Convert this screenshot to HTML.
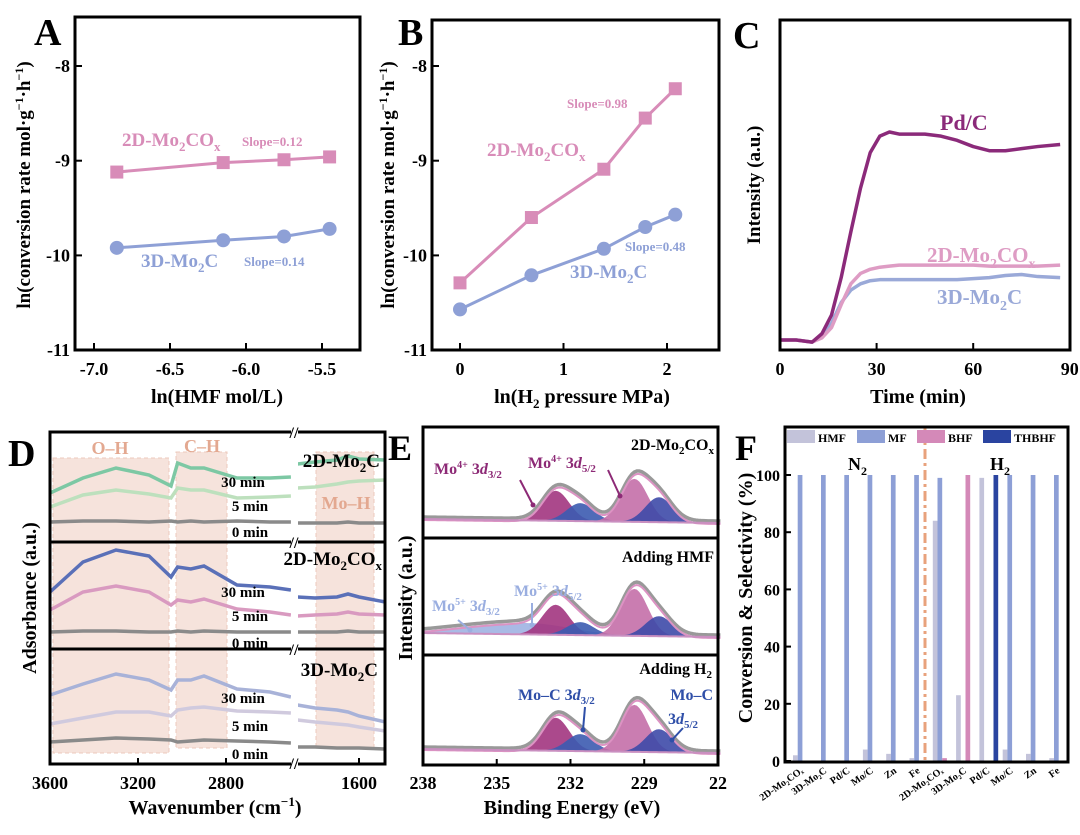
<!DOCTYPE html>
<html><head><meta charset="utf-8"><style>
html,body{margin:0;padding:0;background:#fff;}
svg{display:block;font-family:"Liberation Serif",serif;font-weight:bold;}
</style></head><body>
<svg id="fig" width="1080" height="835" viewBox="0 0 1080 835" xmlns="http://www.w3.org/2000/svg">
<text x="34" y="45" font-size="38">A</text>
<text x="398" y="45" font-size="38">B</text>
<text x="733" y="48" font-size="38">C</text>
<text x="8" y="466" font-size="38">D</text>
<text x="388" y="460" font-size="36">E</text>
<text x="735" y="460" font-size="36">F</text>

<g id="pA"></g>
<g id="pB"></g>
<g id="pC"></g>
<g id="pD"></g>
<g id="pE"></g>
<g id="pF"></g>

<text transform="translate(30,185) rotate(-90)" font-size="19" text-anchor="middle">ln(conversion rate mol·g<tspan dy="-7" font-size="12">−1</tspan><tspan dy="7">·h</tspan><tspan dy="-7" font-size="12">−1</tspan><tspan dy="7">)</tspan></text>
<text x="217" y="403" font-size="20" text-anchor="middle">ln(HMF mol/L)</text>
<text x="122" y="146" font-size="19" fill="#d88cb8">2D-Mo<tspan dy="5" font-size="13">2</tspan><tspan dy="-5">CO</tspan><tspan dy="5" font-size="13">x</tspan></text>
<text x="242" y="146" font-size="13" fill="#d88cb8">Slope=0.12</text>
<text x="141" y="267" font-size="19" fill="#8ea0d6">3D-Mo<tspan dy="5" font-size="13">2</tspan><tspan dy="-5">C</tspan></text>
<text x="244" y="266" font-size="13" fill="#8ea0d6">Slope=0.14</text>

<text transform="translate(394,185) rotate(-90)" font-size="19" text-anchor="middle">ln(conversion rate mol·g<tspan dy="-7" font-size="12">−1</tspan><tspan dy="7">·h</tspan><tspan dy="-7" font-size="12">−1</tspan><tspan dy="7">)</tspan></text>
<text x="582" y="403" font-size="20" text-anchor="middle">ln(H<tspan dy="5" font-size="13">2</tspan><tspan dy="-5"> pressure MPa)</tspan></text>
<text x="567" y="108" font-size="13" fill="#d88cb8">Slope=0.98</text>
<text x="487" y="156" font-size="19" fill="#d88cb8">2D-Mo<tspan dy="5" font-size="13">2</tspan><tspan dy="-5">CO</tspan><tspan dy="5" font-size="13">x</tspan></text>
<text x="625" y="251" font-size="13" fill="#8ea0d6">Slope=0.48</text>
<text x="570" y="278" font-size="19" fill="#8ea0d6">3D-Mo<tspan dy="5" font-size="13">2</tspan><tspan dy="-5">C</tspan></text>

<text transform="translate(760,185) rotate(-90)" font-size="19" text-anchor="middle">Intensity (a.u.)</text>
<text x="918" y="403" font-size="20" text-anchor="middle">Time (min)</text>
<text x="940" y="130" font-size="22" fill="#8b2a7a">Pd/C</text>
<text x="927" y="262" font-size="21" fill="#de9cc4">2D-Mo<tspan dy="6" font-size="14">2</tspan><tspan dy="-6">CO</tspan><tspan dy="6" font-size="14">x</tspan></text>
<text x="937" y="304" font-size="21" fill="#9aa9d8">3D-Mo<tspan dy="6" font-size="14">2</tspan><tspan dy="-6">C</tspan></text>

<text transform="translate(36,598) rotate(-90)" font-size="20" text-anchor="middle">Adsorbance (a.u.)</text>
<text x="215" y="814" font-size="20" text-anchor="middle">Wavenumber (cm<tspan dy="-8" font-size="13">−1</tspan><tspan dy="8">)</tspan></text>

<text transform="translate(412,598) rotate(-90)" font-size="20" text-anchor="middle">Intensity (a.u.)</text>
<text x="572" y="814" font-size="20" text-anchor="middle">Binding Energy (eV)</text>

<text transform="translate(752,598) rotate(-90)" font-size="20" text-anchor="middle">Conversion &amp; Selectivity (%)</text>
</svg>
<script>
const NS="http://www.w3.org/2000/svg";
function mk(tag,attrs,name,parent){
  const el=document.createElementNS(NS,tag);
  for(const k in attrs) el.setAttribute(k,attrs[k]);
  
  
  parent.appendChild(el);
  return el;
}
function tx(x,y,s,size,anchor,fill,name,parent){
  const el=mk('text',{x:x,y:y,'font-size':size,'text-anchor':anchor,fill:fill},name,parent);
  el.textContent=s;
  return el;
}
function line(x1,y1,x2,y2,w,c,name,p){return mk('line',{x1:x1,y1:y1,x2:x2,y2:y2,stroke:c,'stroke-width':w},name,p);}
function frame(x,y,w,h,name,p){return mk('rect',{x:x,y:y,width:w,height:h,fill:'none',stroke:'#000','stroke-width':3},name,p);}

const aX=[-6.85,-6.15,-5.75,-5.45];
const a2D=[-9.12,-9.02,-8.99,-8.96];
const a3D=[-9.92,-9.84,-9.80,-9.72];
const aXTicks=[-7.0,-6.5,-6.0,-5.5];
const aYTicks=[-8,-9,-10,-11];
const bX=[0,0.69,1.39,1.79,2.08];
const b2D=[-10.29,-9.6,-9.09,-8.55,-8.24];
const b3D=[-10.57,-10.21,-9.93,-9.7,-9.57];
const bXTicks=[0,1,2];
const cT=[0,5,10,13,16,19,22,25,28,31,34,37,40,45,50,55,60,65,70,75,80,87];
const cPd=[0,0,-0.01,0.03,0.12,0.3,0.52,0.73,0.9,0.98,1.0,0.99,0.99,0.99,0.98,0.96,0.93,0.91,0.91,0.92,0.93,0.94];
const c2D=[0,0,-0.01,0.01,0.06,0.17,0.27,0.32,0.34,0.35,0.355,0.36,0.36,0.36,0.36,0.36,0.36,0.355,0.355,0.355,0.355,0.36];
const c3D=[0,0,-0.01,0.02,0.08,0.18,0.24,0.27,0.285,0.29,0.29,0.29,0.29,0.29,0.29,0.29,0.295,0.3,0.31,0.315,0.305,0.3];
const cXTicks=[0,30,60,90];
const dWnL=[3600,3450,3300,3150,3050,3020,2960,2900,2750,2600,2505];
const dWnR=[1880,1800,1700,1650,1600,1480];
const d1_30L=[.49,.64,.74,.67,.56,.79,.74,.74,.64,.64,.65], d1_30R=[.78,.80,.82,.86,.83,.82];
const d1_5L=[.35,.47,.52,.48,.44,.54,.52,.52,.44,.45,.46], d1_5R=[.54,.55,.58,.60,.61,.62];
const d1_0L=[.20,.21,.21,.20,.21,.20,.21,.20,.21,.20,.20], d1_0R=[.19,.19,.19,.20,.19,.19];
const d2_30L=[.57,.87,.99,.93,.72,.82,.80,.83,.64,.62,.59], d2_30R=[.52,.51,.52,.55,.52,.47];
const d2_5L=[.39,.57,.63,.57,.44,.49,.47,.50,.40,.37,.34], d2_5R=[.33,.34,.35,.37,.35,.34];
const d2_0L=[.17,.18,.18,.17,.17,.18,.17,.18,.17,.17,.17], d2_0R=[.17,.17,.17,.18,.17,.17];
const d3_30L=[.68,.79,.89,.83,.73,.83,.83,.87,.74,.71,.66], d3_30R=[.58,.55,.53,.51,.47,.41];
const d3_5L=[.39,.45,.51,.51,.47,.53,.55,.56,.52,.51,.50], d3_5R=[.43,.41,.39,.38,.36,.32];
const d3_0L=[.21,.23,.25,.24,.23,.21,.22,.23,.22,.21,.20], d3_0R=[.16,.16,.15,.15,.15,.14];
const dXTicks=[3600,3200,2800,1600];
const eCenters=[232.6,231.6,229.4,228.4];
const eH1=[30,18,43,25];
const eH2=[30,13,47,20];
const eH3=[33,17,47,23];
const eMo5Center=[233.4,236.0];
const eMo5H=[10,5];
const eXTicks=[238,235,232,229,226];
const fCats=['2D-Mo₂COₓ','3D-Mo₂C','Pd/C','Mo/C','Zn','Fe','2D-Mo₂COₓ','3D-Mo₂C','Pd/C','Mo/C','Zn','Fe'];
const fHMF=[2,0,0,4,2.5,1,84,23,99,4,2.5,1];
const fMF=[100,100,100,100,100,100,99,0,0,100,100,100];
const fBHF=[0,0,0,0,0,0,1,100,0,0,0,0];
const fTHBHF=[0,0,0,0,0,0,0,0,100,0,0,0];
const fYTicks=[0,20,40,60,80,100];

(function(){
  const p=document.getElementById('pA');
  const xA=v=>94+(v+7)*152, yA=v=>66+(-8-v)*94.7;
  aYTicks.forEach(t=>{line(75,yA(t),82,yA(t),2,'#000','y-tick-a',p);tx(70,yA(t)+6,String(t),18,'end','#000','y-tick-label-a',p);});
  aXTicks.forEach(t=>{line(xA(t),350,xA(t),343,2,'#000','x-tick-a',p);tx(xA(t),375,t.toFixed(1),18,'middle','#000','x-tick-label-a',p);});
  [[a2D,'#d88cb8','sq','2d'],[a3D,'#8ea0d6','ci','3d']].forEach(([ys,c,m,n])=>{
    mk('polyline',{points:aX.map((x,i)=>xA(x)+','+yA(ys[i])).join(' '),fill:'none',stroke:c,'stroke-width':3},'line-'+n+'-a',p);
    aX.forEach((x,i)=>{
      if(m==='sq') mk('rect',{x:xA(x)-6.5,y:yA(ys[i])-6.5,width:13,height:13,fill:c},'point-'+n+'-a',p);
      else mk('circle',{cx:xA(x),cy:yA(ys[i]),r:7,fill:c},'point-'+n+'-a',p);
    });
  });
  frame(75,17,285,333,'plot-frame-a',p);
})();
(function(){
  const p=document.getElementById('pB');
  const xB=v=>460+v*103.5, yB=v=>66+(-8-v)*94.7;
  aYTicks.forEach(t=>{line(432,yB(t),439,yB(t),2,'#000','y-tick-b',p);tx(427,yB(t)+6,String(t),18,'end','#000','y-tick-label-b',p);});
  bXTicks.forEach(t=>{line(xB(t),350,xB(t),343,2,'#000','x-tick-b',p);tx(xB(t),375,String(t),18,'middle','#000','x-tick-label-b',p);});
  [[b2D,'#d88cb8','sq','2d'],[b3D,'#8ea0d6','ci','3d']].forEach(([ys,c,m,n])=>{
    mk('polyline',{points:bX.map((x,i)=>xB(x)+','+yB(ys[i])).join(' '),fill:'none',stroke:c,'stroke-width':3},'line-'+n+'-b',p);
    bX.forEach((x,i)=>{
      if(m==='sq') mk('rect',{x:xB(x)-6.5,y:yB(ys[i])-6.5,width:13,height:13,fill:c},'point-'+n+'-b',p);
      else mk('circle',{cx:xB(x),cy:yB(ys[i]),r:7,fill:c},'point-'+n+'-b',p);
    });
  });
  frame(432,20,287,330,'plot-frame-b',p);
})();
(function(){
  const p=document.getElementById('pC');
  const xC=t=>780+t*3.22, yC=v=>340-v*208;
  cXTicks.forEach(t=>{line(xC(t),350,xC(t),343,2,'#000','x-tick-c',p);tx(xC(t),375,String(t),18,'middle','#000','x-tick-label-c',p);});
  [[c3D,'#9aa9d8','3d'],[c2D,'#de9cc4','2d'],[cPd,'#8b2a7a','pdc']].forEach(([ys,c,n])=>{
    mk('polyline',{points:cT.map((t,i)=>xC(t)+','+yC(ys[i])).join(' '),fill:'none',stroke:c,'stroke-width':3.5,'stroke-linejoin':'round'},'curve-'+n,p);
  });
  frame(780,20,290,330,'plot-frame-c',p);
})();
(function(){
  const p=document.getElementById('pD');
  const xD=w=>w>=2505?50+(3600-w)*0.22:359+(1600-w)*0.22;
  mk('rect',{x:53,y:458,width:116,height:295,fill:'#f6e3dc',stroke:'#ecc9bc','stroke-dasharray':'4 3'},'region-oh',p);
  mk('rect',{x:176,y:452,width:51,height:296,fill:'#f6e3dc',stroke:'#ecc9bc','stroke-dasharray':'4 3'},'region-ch',p);
  mk('rect',{x:316,y:452,width:58,height:296,fill:'#f6e3dc',stroke:'#ecc9bc','stroke-dasharray':'4 3'},'region-moh',p);
  tx(110,454,'O–H',18,'middle','#e3a890','label-oh',p);
  tx(202,452,'C–H',18,'middle','#e3a890','label-ch',p);
  tx(346,509,'Mo–H',18,'middle','#e3a890','label-moh',p);
  const subs=[
    {b:542,L:[d1_30L,d1_5L,d1_0L],R:[d1_30R,d1_5R,d1_0R],c:['#7dc8a4','#bde0bd','#8a8a8a'],n:'2d-mo2c'},
    {b:649,L:[d2_30L,d2_5L,d2_0L],R:[d2_30R,d2_5R,d2_0R],c:['#5a70b8','#d99ac0','#8a8a8a'],n:'2d-mo2cox'},
    {b:763,L:[d3_30L,d3_5L,d3_0L],R:[d3_30R,d3_5R,d3_0R],c:['#a8b2d8','#d0cade','#8a8a8a'],n:'3d-mo2c'}];
  const tm=['30min','5min','0min'];
  subs.forEach(s=>{
    for(let k=0;k<3;k++){
      mk('polyline',{points:dWnL.map((w,i)=>xD(w)+','+(s.b-s.L[k][i]*100)).join(' '),fill:'none',stroke:s.c[k],'stroke-width':3.5},'spectrum-'+s.n+'-'+tm[k]+'-left',p);
      mk('polyline',{points:dWnR.map((w,i)=>xD(w)+','+(s.b-s.R[k][i]*100)).join(' '),fill:'none',stroke:s.c[k],'stroke-width':3.5},'spectrum-'+s.n+'-'+tm[k]+'-right',p);
    }
  });
  [[487,511,537],[597,621,648],[703,731,759]].forEach(r=>{
    tx(243,r[0],'30 min',15,'middle','#000','time-label',p);
    tx(250,r[1],'5 min',15,'middle','#000','time-label',p);
    tx(250,r[2],'0 min',15,'middle','#000','time-label',p);
  });
  line(50,542,385,542,3,'#000','subpanel-separator',p);
  line(50,649,385,649,3,'#000','subpanel-separator',p);
  frame(50,432,335,332,'plot-frame-d',p);
  mk('rect',{x:291,y:428,width:7,height:340,fill:'#fff'},'axis-break-cover',p);
  [432,542,649,763].forEach(y=>{
    tx(294,y+6,'//',16,'middle','#000','axis-break-mark',p);
  });
  dXTicks.forEach(t=>{line(xD(t),764,xD(t),758,2,'#000','x-tick-d',p);tx(xD(t),789,String(t),18,'middle','#000','x-tick-label-d',p);});
})();
(function(){
  const g=document.getElementById('pD');
  const t1=mk('text',{x:380,y:467,'font-size':19,'text-anchor':'end'},'label-2d-mo2c-d',g);
  t1.innerHTML='2D-Mo<tspan dy="5" font-size="13">2</tspan><tspan dy="-5">C</tspan>';
  const t2=mk('text',{x:382,y:565,'font-size':19,'text-anchor':'end'},'label-2d-mo2cox-d',g);
  t2.innerHTML='2D-Mo<tspan dy="5" font-size="13">2</tspan><tspan dy="-5">CO</tspan><tspan dy="5" font-size="13">x</tspan>';
  const t3=mk('text',{x:378,y:676,'font-size':19,'text-anchor':'end'},'label-3d-mo2c-d',g);
  t3.innerHTML='3D-Mo<tspan dy="5" font-size="13">2</tspan><tspan dy="-5">C</tspan>';
})();
(function(){
  const p=document.getElementById('pE');
  const xE=e=>423+(238-e)*24.58;
  const sig=0.55;
  const subs=[{b:520,h:eH1,extra:false,n:'2d-mo2cox'},{b:634,h:eH2,extra:true,n:'adding-hmf'},{b:750,h:eH3,extra:false,n:'adding-h2'}];
  const cols=['#a2357f','#3c5bb0','#c46fa8','#3e4aa8'];
  const es=[];for(let e=238;e>=225.9;e-=0.1)es.push(+e.toFixed(2));
  subs.forEach(s=>{
    const bg=e=>s.b-4*(e-226)/12+3;
    const g=(e,c,h,sg)=>h*Math.exp(-0.5*Math.pow((e-c)/sg,2));
    const tot=e=>{let v=0;eCenters.forEach((c,i)=>v+=g(e,c,s.h[i],sig));if(s.extra){v+=g(e,eMo5Center[0],eMo5H[0],1.6)+g(e,eMo5Center[1],eMo5H[1],1.5);}return v;};
    if(s.extra){
      const pts=es.map(e=>xE(e)+','+(bg(e)-g(e,eMo5Center[0],eMo5H[0],1.6)-g(e,eMo5Center[1],eMo5H[1],1.5)));
      mk('polygon',{points:pts.join(' ')+' '+xE(226)+','+bg(226)+' '+xE(238)+','+bg(238),fill:'#9aaee0',opacity:0.85},'peak-mo5',p);
    }
    eCenters.forEach((c,i)=>{
      const pe=es.filter(e=>Math.abs(e-c)<2.2);
      const pts=pe.map(e=>xE(e)+','+(bg(e)-g(e,c,s.h[i],sig)));
      mk('polygon',{points:pts.join(' '),fill:cols[i],opacity:0.9},'peak-'+s.n+'-'+i,p);
    });
    mk('polyline',{points:es.map(e=>xE(e)+','+(bg(e)-tot(e)-2)).join(' '),fill:'none',stroke:'#999','stroke-width':3.5},'envelope-'+s.n,p);
    mk('polyline',{points:es.map(e=>xE(e)+','+(bg(e)-tot(e)+1)).join(' '),fill:'none',stroke:'#dc93c3','stroke-width':2},'fit-'+s.n,p);
    mk('polyline',{points:es.map(e=>xE(e)+','+bg(e)).join(' '),fill:'none',stroke:'#c98fc0','stroke-width':2},'baseline-'+s.n,p);
  });
  line(423,538,718,538,3,'#000','subpanel-separator',p);
  line(423,655,718,655,3,'#000','subpanel-separator',p);
  frame(423,427,295,338,'plot-frame-e',p);
  eXTicks.forEach(t=>{line(xE(t),765,xE(t),759,2,'#000','x-tick-e',p);tx(xE(t),789,String(t===226?22:t),18,'middle','#000','x-tick-label-e',p);});
  const L=(x,y,h,fill,anchor,name)=>{const t=mk('text',{x:x,y:y,'font-size':16,'text-anchor':anchor||'start',fill:fill},name,p);t.innerHTML=h;return t;};
  L(714,450,'2D-Mo<tspan dy="4" font-size="11">2</tspan><tspan dy="-4">CO</tspan><tspan dy="4" font-size="11">x</tspan>','#000','end','label-e-2d');
  L(434,474,'Mo<tspan dy="-6" font-size="10">4+</tspan><tspan dy="6"> 3</tspan><tspan font-style="italic">d</tspan><tspan dy="4" font-size="11">3/2</tspan>','#8d2a76','start','label-mo4-32');
  L(528,468,'Mo<tspan dy="-6" font-size="10">4+</tspan><tspan dy="6"> 3</tspan><tspan font-style="italic">d</tspan><tspan dy="4" font-size="11">5/2</tspan>','#8d2a76','start','label-mo4-52');
  L(714,562,'Adding HMF','#000','end','label-adding-hmf');
  L(432,611,'Mo<tspan dy="-6" font-size="10">5+</tspan><tspan dy="6"> 3</tspan><tspan font-style="italic">d</tspan><tspan dy="4" font-size="11">3/2</tspan>','#9aaee0','start','label-mo5-32');
  L(514,596,'Mo<tspan dy="-6" font-size="10">5+</tspan><tspan dy="6"> 3</tspan><tspan font-style="italic">d</tspan><tspan dy="4" font-size="11">5/2</tspan>','#9aaee0','start','label-mo5-52');
  L(712,674,'Adding H<tspan dy="4" font-size="11">2</tspan>','#000','end','label-adding-h2');
  L(518,700,'Mo–C 3<tspan font-style="italic">d</tspan><tspan dy="4" font-size="11">3/2</tspan>','#2f4fa8','start','label-moc-32');
  L(713,700,'Mo–C','#2f4fa8','end','label-moc');
  L(668,724,'3<tspan font-style="italic">d</tspan><tspan dy="4" font-size="11">5/2</tspan>','#2f4fa8','start','label-moc-52');
  [[520,480,533,505,'#8d2a76'],[608,470,620,496,'#8d2a76'],[458,620,470,630,'#9aaee0'],[532,603,532,625,'#9aaee0'],[585,707,583,730,'#2f4fa8'],[683,728,672,740,'#2f4fa8']].forEach(a=>{
    line(a[0],a[1],a[2],a[3],2,a[4],'annotation-arrow',p);
    mk('circle',{cx:a[2],cy:a[3],r:2.5,fill:a[4]},'annotation-arrowhead',p);
  });
})();
(function(){
  const p=document.getElementById('pF');
  const yF=v=>761-v*2.86;
  const x0=i=>793+i*23.3, bw=4.7;
  mk('line',{x1:925,y1:428,x2:925,y2:761,stroke:'#e8a27c','stroke-width':3,'stroke-dasharray':'10 4 3 4'},'divider-n2-h2',p);
  fCats.forEach((c,i)=>{
    [[fHMF,'#c3c3da','hmf'],[fMF,'#8d9fd6','mf'],[fBHF,'#d489b8','bhf'],[fTHBHF,'#2a44a0','thbhf']].forEach(([arr,col,n],k)=>{
      const v=arr[i]; if(v<=0) return;
      mk('rect',{x:x0(i)+k*bw,y:yF(v),width:bw,height:761-yF(v),fill:col},'bar-'+n+'-'+i,p);
    });
    const t=tx(0,0,c,10,'end','#000','x-tick-label-f',p);
    t.setAttribute('transform','translate('+(x0(i)+11)+',772) rotate(-35)');
  });
  fYTicks.forEach(t=>{line(785,yF(t),791,yF(t),2,'#000','y-tick-f',p);tx(780,yF(t)+6,String(t),16,'end','#000','y-tick-label-f',p);});
  frame(785,427,283,335,'plot-frame-f',p);
  [[787,'#c3c3da','HMF'],[857,'#8d9fd6','MF'],[917,'#d489b8','BHF'],[983,'#2a44a0','THBHF']].forEach(([x,c,s])=>{
    mk('rect',{x:x,y:430,width:28,height:13,fill:c},'legend-swatch-'+s.toLowerCase(),p);
    tx(x+31,442,s,12,'start','#000','legend-label-'+s.toLowerCase(),p);
  });
  const n2=mk('text',{x:848,y:470,'font-size':18},'label-n2',p);n2.innerHTML='N<tspan dy="5" font-size="12">2</tspan>';
  const h2=mk('text',{x:990,y:470,'font-size':18},'label-h2',p);h2.innerHTML='H<tspan dy="5" font-size="12">2</tspan>';
})();
</script>
</body></html>
